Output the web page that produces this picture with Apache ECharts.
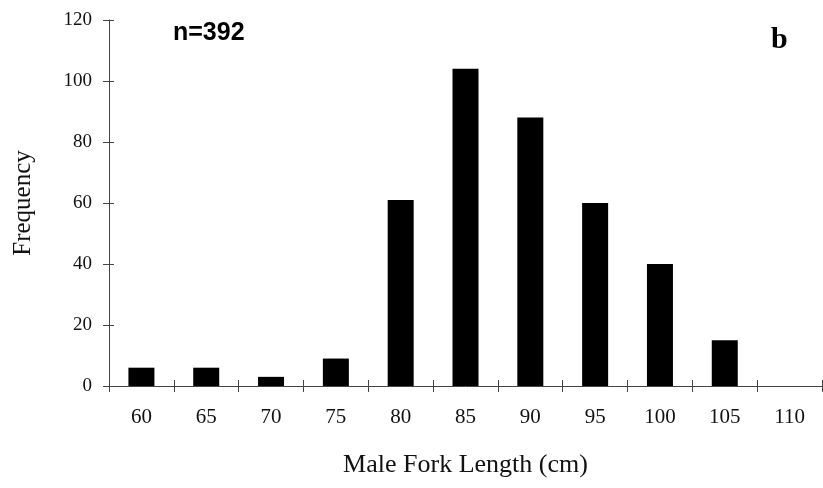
<!DOCTYPE html>
<html>
<head>
<meta charset="utf-8">
<script src="https://cdn.jsdelivr.net/npm/echarts@6/dist/echarts.min.js"></script>
<style>
  html, body { margin: 0; padding: 0; background: #fff; }
  #chart { width: 823px; height: 488px; }
</style>
</head>
<body>
<div id="chart"></div>
<script>
// Fork length classes (cm) and number of males in each class
const lengthClasses = ['60', '65', '70', '75', '80', '85', '90', '95', '100', '105', '110'];
const frequencies = [6, 6, 3, 9, 61, 104, 88, 60, 40, 15, 0];
const yTicks = { min: 0, max: 120, step: 20 };

const serif = '"Liberation Serif", "DejaVu Serif", serif';
const axisColor = '#444';

const chart = echarts.init(document.getElementById('chart'), null, { renderer: 'canvas' });

chart.setOption({
  backgroundColor: '#ffffff',
  animation: false,
  grid: { left: 109, right: 1, top: 20, bottom: 102, containLabel: false },
  title: [
    {
      text: 'n=392',
      left: 168, top: 16,
      textStyle: { fontFamily: '"Liberation Sans", Arial, sans-serif', fontWeight: 'bold', fontSize: 25, color: '#000' }
    },
    {
      text: 'b',
      left: 766, top: 20,
      textStyle: { fontFamily: serif, fontWeight: 'bold', fontSize: 30, color: '#000' }
    }
  ],
  xAxis: [
    {
      type: 'category',
      data: lengthClasses,
      name: 'Male Fork Length (cm)',
      nameLocation: 'middle',
      nameGap: 66,
      nameTextStyle: { fontFamily: serif, fontSize: 26, color: '#111' },
      axisLine: { lineStyle: { color: axisColor, width: 1 } },
      axisTick: { show: true, length: 6, lineStyle: { color: axisColor } },
      axisLabel: { fontFamily: serif, fontSize: 21, color: '#111', margin: 21 },
      splitLine: { show: false }
    },
    {
      // inner half of the crossing tick marks
      type: 'category',
      data: lengthClasses,
      position: 'bottom',
      axisLine: { show: false },
      axisTick: { show: true, inside: true, length: 6, lineStyle: { color: axisColor } },
      axisLabel: { show: false },
      splitLine: { show: false }
    }
  ],
  yAxis: [
    {
      type: 'value',
      min: yTicks.min, max: yTicks.max, interval: yTicks.step,
      name: 'Frequency',
      nameLocation: 'middle',
      nameGap: 73,
      nameRotate: 90,
      nameTextStyle: { fontFamily: serif, fontSize: 25, color: '#111' },
      axisLine: { show: true, lineStyle: { color: axisColor, width: 1 } },
      axisTick: { show: true, length: 6, lineStyle: { color: axisColor } },
      axisLabel: { fontFamily: serif, fontSize: 19, color: '#111', margin: 17 },
      splitLine: { show: false }
    },
    {
      // inner half of the crossing tick marks
      type: 'value',
      position: 'left',
      min: yTicks.min, max: yTicks.max, interval: yTicks.step,
      axisLine: { show: false },
      axisTick: { show: true, inside: true, length: 5, lineStyle: { color: axisColor } },
      axisLabel: { show: false },
      splitLine: { show: false }
    }
  ],
  series: [
    {
      type: 'bar',
      data: frequencies,
      barWidth: 26,
      itemStyle: { color: '#000' }
    }
  ]
});
</script>
</body>
</html>
